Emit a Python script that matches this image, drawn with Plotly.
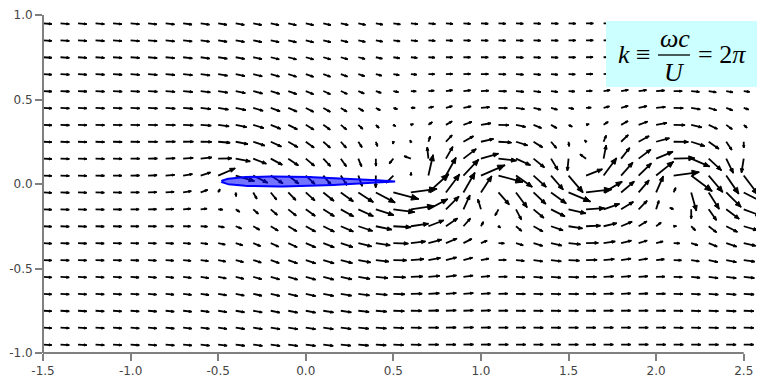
import numpy as np
import plotly.graph_objects as go

# ---------------- data ----------------
# sampling grid of the velocity field
grid_x = [round(-1.5 + 0.1 * i, 2) for i in range(41)]      # -1.5 ... 2.5
grid_y = [round(-0.95 + 0.1 * j, 2) for j in range(20)]     # -0.95 ... 0.95

# flow parameters
freestream_u = 1.0          # U
plunge_velocity = -0.8      # airfoil moving downward
airfoil_le = -0.48
airfoil_te = 0.51
airfoil_yc = 0.015
airfoil_thickness = 0.06

# wake vortices (positions / circulation / core radius)
vortex_x = [0.62, 1.05, 1.58, 2.12, 2.57]
vortex_y = [0.02, -0.05, 0.07, -0.02, 0.07]
vortex_gamma = [1.5, -1.7, 1.7, -1.7, 1.7]
vortex_core = [0.085, 0.085, 0.085, 0.085, 0.085]

x_ticks = [-1.5, -1.0, -0.5, 0.0, 0.5, 1.0, 1.5, 2.0, 2.5]
x_tick_text = ["-1.5", "-1.0", "-0.5", "0.0", "0.5", "1.0", "1.5", "2.0", "2.5"]
y_ticks = [-1.0, -0.5, 0.0, 0.5, 1.0]
y_tick_text = ["-1.0", "-0.5", "0.0", "0.5", "1.0"]

# ---------------- velocity field ----------------
X, Y = np.meshgrid(np.array(grid_x), np.array(grid_y))
half = 0.5 * (airfoil_te - airfoil_le)
xc = 0.5 * (airfoil_te + airfoil_le)
Z = (X - xc) + 1j * (Y - airfoil_yc)
root = np.sqrt(Z - half) * np.sqrt(Z + half)
dw = 1j * plunge_velocity * (Z / root - 1.0)
up = dw.real
vp = -dw.imag
mag = np.hypot(up, vp)
lim = 1.6
fac = np.where(mag > lim, lim / np.maximum(mag, 1e-9), 1.0)
up *= fac
vp *= fac

U = freestream_u + up
V = vp.copy()
for x0, y0, g, rc in zip(vortex_x, vortex_y, vortex_gamma, vortex_core):
    dx = X - x0
    dy = Y - y0
    r2 = dx * dx + dy * dy + 1e-12
    f = g / (2 * np.pi * r2) * (1 - np.exp(-r2 / rc ** 2))
    U += -f * dy
    V += f * dx

# ---------------- arrows ----------------
scale = 0.05
sx, sy, hx, hy = [], [], [], []
for xi, yi, ui, vi in zip(X.ravel(), Y.ravel(), U.ravel(), V.ravel()):
    ex, ey = xi + scale * ui, yi + scale * vi
    L = np.hypot(ex - xi, ey - yi)
    if L < 1e-6:
        continue
    sx += [xi, ex, None]
    sy += [yi, ey, None]
    dx, dy = (ex - xi) / L, (ey - yi) / L
    h = min(max(0.28 * L, 0.015), 0.042)
    w = 0.42 * h
    bx, by = ex - h * dx, ey - h * dy
    hx += [ex, bx - w * dy, bx + w * dy, ex, None]
    hy += [ey, by + w * dx, by - w * dx, ey, None]

fig = go.Figure()
fig.add_trace(go.Scatter(x=sx, y=sy, mode="lines",
                         line=dict(color="black", width=1.8),
                         hoverinfo="skip", showlegend=False))
fig.add_trace(go.Scatter(x=hx, y=hy, mode="lines", fill="toself",
                         fillcolor="black", line=dict(color="black", width=1),
                         hoverinfo="skip", showlegend=False))

# airfoil (symmetric section)
t = np.linspace(0, np.pi, 80)
xs = 0.5 * (1 - np.cos(t))
yt = 5 * airfoil_thickness * (0.2969 * np.sqrt(xs) - 0.126 * xs - 0.3516 * xs ** 2
                              + 0.2843 * xs ** 3 - 0.1036 * xs ** 4)
chord = airfoil_te - airfoil_le
ax_ = airfoil_le + chord * xs
fx = np.concatenate([ax_, ax_[::-1]])
fy = np.concatenate([airfoil_yc + yt * chord, (airfoil_yc - yt * chord)[::-1]])
fig.add_trace(go.Scatter(x=fx, y=fy, mode="lines", fill="toself",
                         fillcolor="rgba(0,0,255,0.55)",
                         line=dict(color="#0000ff", width=2),
                         hoverinfo="skip", showlegend=False))

# ---------------- layout ----------------
L_M, R_M, T_M, B_M = 43, 9, 15, 28
W, H = 765, 381
pw = W - L_M - R_M
ph = H - T_M - B_M
x_range = [-1.5, 2.57]


def px_to_paper_x(p):
    return (p - L_M) / pw


def px_to_paper_y(p):
    return (H - B_M - p) / ph


x_end_paper = (2.5 - x_range[0]) / (x_range[1] - x_range[0])

shapes = [
    dict(type="line", xref="paper", yref="paper", x0=0, x1=0, y0=0, y1=1,
         line=dict(color="#808080", width=2)),
    dict(type="line", xref="paper", yref="paper", x0=0, x1=x_end_paper, y0=0, y1=0,
         line=dict(color="#808080", width=2)),
    dict(type="rect", xref="paper", yref="paper",
         x0=px_to_paper_x(606), x1=px_to_paper_x(757),
         y0=px_to_paper_y(87), y1=px_to_paper_y(21),
         fillcolor="#ccffff", line=dict(width=0), layer="above"),
    dict(type="line", xref="paper", yref="paper",
         x0=px_to_paper_x(658), x1=px_to_paper_x(690),
         y0=px_to_paper_y(55), y1=px_to_paper_y(55),
         line=dict(color="black", width=1.3), layer="above"),
]

ffont = dict(family="Liberation Serif", size=26, color="black")
annotations = [
    dict(xref="paper", yref="paper", x=px_to_paper_x(634), y=px_to_paper_y(54),
         text="<i>k</i> ≡", showarrow=False, font=ffont, xanchor="center", yanchor="middle"),
    dict(xref="paper", yref="paper", x=px_to_paper_x(675), y=px_to_paper_y(38),
         text="<i>ωc</i>", showarrow=False, font=ffont, xanchor="center", yanchor="middle"),
    dict(xref="paper", yref="paper", x=px_to_paper_x(674), y=px_to_paper_y(72),
         text="<i>U</i>", showarrow=False, font=ffont, xanchor="center", yanchor="middle"),
    dict(xref="paper", yref="paper", x=px_to_paper_x(722), y=px_to_paper_y(54),
         text="= 2<i>π</i>", showarrow=False, font=ffont, xanchor="center", yanchor="middle"),
]

tickfont = dict(family="DejaVu Sans", size=12, color="#444444")
fig.update_layout(
    width=W, height=H,
    margin=dict(l=L_M, r=R_M, t=T_M, b=B_M, autoexpand=False),
    paper_bgcolor="white", plot_bgcolor="white",
    shapes=shapes, annotations=annotations,
    xaxis=dict(range=x_range, tickvals=x_ticks, ticktext=x_tick_text,
               showgrid=False, zeroline=False, showline=False, automargin=False,
               ticks="outside", ticklen=7, tickwidth=1.5, tickcolor="#808080",
               tickfont=tickfont),
    yaxis=dict(range=[-1.0, 1.0], tickvals=y_ticks, ticktext=y_tick_text,
               showgrid=False, zeroline=False, showline=False, automargin=False,
               ticks="outside", ticklen=7, tickwidth=1.5, tickcolor="#808080",
               tickfont=tickfont),
)

fig.write_html("out.html", config={"displayModeBar": False},
               post_script="document.body.style.margin='0px';")
